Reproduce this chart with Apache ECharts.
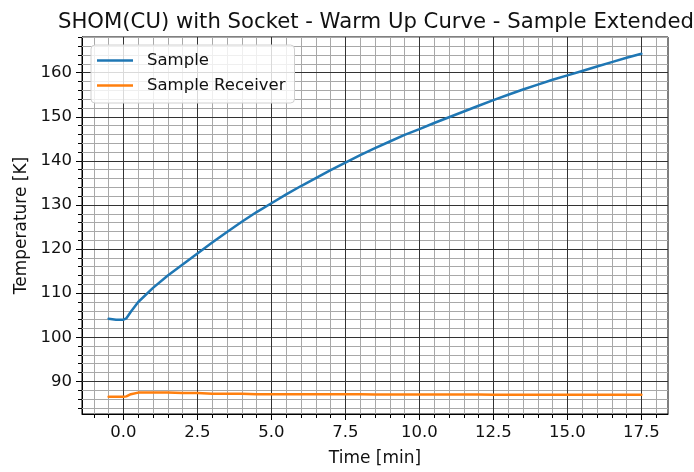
<!DOCTYPE html>
<html>
<head>
<meta charset="utf-8">
<script src="https://cdn.jsdelivr.net/npm/echarts@6/dist/echarts.min.js"></script>
<style>
  html, body { margin: 0; padding: 0; background: #fff; }
  #chart { width: 694px; height: 472px; }
</style>
</head>
<body>
<div id="chart"></div>
<script>
// Warm-up measurement: time since start [min] and temperatures [K]
const time = [-0.5, -0.25, 0, 0.1, 0.25, 0.5, 1, 1.5, 2, 2.5, 3, 3.5, 4, 4.5, 5, 5.5, 6, 6.5, 7, 7.5,
  8, 8.5, 9, 9.5, 10, 10.5, 11, 11.5, 12, 12.5, 13, 13.5, 14, 14.5, 15, 15.5, 16, 16.5, 17, 17.5];
const sampleTemp = [104.2, 104.0, 104.0, 104.3, 105.8, 108.0, 111.2, 114.0, 116.5, 119.0, 121.5, 123.9,
  126.2, 128.4, 130.4, 132.4, 134.3, 136.1, 137.9, 139.6, 141.3, 142.9, 144.4, 145.9, 147.2, 148.6,
  149.9, 151.2, 152.5, 153.8, 155.0, 156.2, 157.3, 158.4, 159.4, 160.4, 161.4, 162.4, 163.4, 164.3];
const receiverTemp = [86.5, 86.5, 86.5, 86.6, 87.1, 87.45, 87.5, 87.5, 87.35, 87.35, 87.2, 87.2,
  87.2, 87.1, 87.1, 87.1, 87.1, 87.1, 87.1, 87.1, 87.1, 87.0, 87.0, 87.0, 87.0, 87.0,
  87.0, 87.0, 87.0, 86.95, 86.95, 86.95, 86.95, 86.95, 86.95, 86.95, 86.95, 86.95, 86.95, 86.95];

// Tick positions
const xMajorTicks = [0, 2.5, 5, 7.5, 10, 12.5, 15, 17.5];
const yMajorTicks = [90, 100, 110, 120, 130, 140, 150, 160];
const xMinorStep = 0.5;
const yMinorStep = 2;

// Axis extents (data range plus 5% margin)
const xRange = [-1.4, 18.4];
const yRange = [82.6, 168.1];

function minorTicks(range, step, majors) {
  const out = [];
  for (let v = Math.ceil(range[0] / step) * step; v <= range[1] + 1e-9; v += step) {
    const r = Math.round(v * 1000) / 1000;
    if (!majors.some(m => Math.abs(m - r) < 1e-6)) out.push(r);
  }
  return out;
}
const xMinorTicks = minorTicks(xRange, xMinorStep, xMajorTicks);
const yMinorTicks = minorTicks(yRange, yMinorStep, yMajorTicks);

const FONT = 'DejaVu Sans';
const TXT = '#111';
const MAJOR_GRID = '#333';
const MINOR_GRID = '#a8a8a8';

function majorAxis(range, ticks, fmt, name, isX) {
  return {
    type: 'value', min: range[0], max: range[1],
    position: isX ? 'bottom' : 'left',
    name: name, nameLocation: 'middle', nameGap: isX ? 36 : 48,
    nameTextStyle: { fontFamily: FONT, fontSize: 17, color: TXT },
    axisLine: { show: true, onZero: false, lineStyle: { color: '#000', width: 1 } },
    axisTick: { show: true, inside: false, length: 6, customValues: ticks, lineStyle: { color: '#000', width: 1 } },
    axisLabel: { show: true, customValues: ticks, formatter: fmt, margin: 10, fontFamily: FONT, fontSize: 16.5, color: TXT },
    splitLine: { show: false },
    minorTick: { show: false }
  };
}
function minorAxis(range, ticks, isX) {
  return {
    type: 'value', min: range[0], max: range[1],
    position: isX ? 'bottom' : 'left',
    axisLine: { show: false, onZero: false },
    axisTick: { show: true, inside: false, length: 4, customValues: ticks, lineStyle: { color: '#000', width: 1 } },
    axisLabel: { show: false, customValues: ticks },
    splitLine: { show: false },
    minorTick: { show: false }
  };
}

// Grid lines drawn as mark lines at the tick values
function gridSeries(xs, ys, color, z) {
  return {
    type: 'line', data: [], xAxisIndex: 0, yAxisIndex: 0, z: z, silent: true,
    markLine: {
      silent: true, symbol: 'none', animation: false,
      label: { show: false }, emphasis: { disabled: true },
      lineStyle: { color: color, width: 1, type: 'solid' },
      data: xs.map(v => ({ xAxis: v })).concat(ys.map(v => ({ yAxis: v })))
    }
  };
}

const LEGEND_ICON = 'path://M0,0H36V2.5H0Z';

const chart = echarts.init(document.getElementById('chart'), null, { renderer: 'canvas' });
chart.setOption({
  animation: false,
  backgroundColor: '#fff',
  title: {
    text: 'SHOM(CU) with Socket - Warm Up Curve - Sample Extended',
    left: 371, textAlign: 'center', top: 7,
    textStyle: { fontFamily: FONT, fontSize: 21.2, fontWeight: 'normal', color: TXT }
  },
  grid: { left: 82, right: 26, top: 37, bottom: 48, show: true, borderColor: '#000', borderWidth: 1, backgroundColor: 'transparent', containLabel: false },
  legend: {
    orient: 'vertical', left: 91, top: 45, z: 20,
    padding: [7, 9, 9, 6], itemGap: 8, itemWidth: 36, itemHeight: 19,
    backgroundColor: 'rgba(255,255,255,0.82)', borderColor: '#d0d0d0', borderWidth: 1, borderRadius: 4,
    textStyle: { fontFamily: FONT, fontSize: 16.5, color: TXT, padding: [0, 0, 0, 9] },
    data: [
      { name: 'Sample', icon: LEGEND_ICON },
      { name: 'Sample Receiver', icon: LEGEND_ICON }
    ]
  },
  xAxis: [
    majorAxis(xRange, xMajorTicks, v => v.toFixed(1), 'Time [min]', true),
    minorAxis(xRange, xMinorTicks, true)
  ],
  yAxis: [
    majorAxis(yRange, yMajorTicks, v => String(v), 'Temperature [K]', false),
    minorAxis(yRange, yMinorTicks, false)
  ],
  series: [
    gridSeries(xMinorTicks, yMinorTicks, MINOR_GRID, 1),
    gridSeries(xMajorTicks, yMajorTicks, MAJOR_GRID, 2),
    {
      name: 'Sample', type: 'line', xAxisIndex: 0, yAxisIndex: 0,
      data: time.map((t, i) => [t, sampleTemp[i]]),
      showSymbol: false, symbol: 'none', z: 5,
      lineStyle: { color: '#1f77b4', width: 2.5, join: 'round', cap: 'round' },
      itemStyle: { color: '#1f77b4' }
    },
    {
      name: 'Sample Receiver', type: 'line', xAxisIndex: 0, yAxisIndex: 0,
      data: time.map((t, i) => [t, receiverTemp[i]]),
      showSymbol: false, symbol: 'none', z: 5,
      lineStyle: { color: '#ff7f0e', width: 2.5, join: 'round', cap: 'round' },
      itemStyle: { color: '#ff7f0e' }
    }
  ]
});
</script>
</body>
</html>
